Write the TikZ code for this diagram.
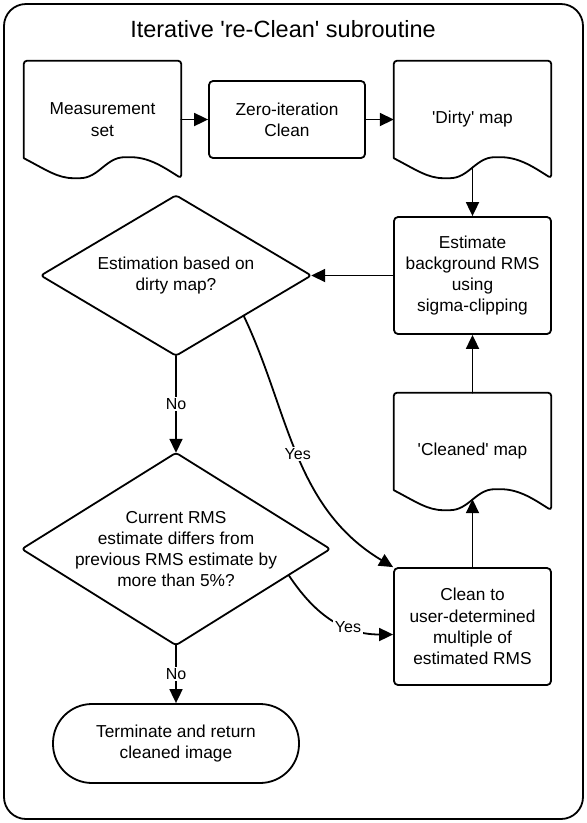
\documentclass[tikz,border=0pt]{standalone}
\usepackage{fontspec}
\setmainfont{Liberation Sans}
\usepackage{tikz}
\usetikzlibrary{positioning,calc,arrows.meta,shapes.geometric}

% outline of a 'document' shape round a node, plus a coordinate on its wave
\newcommand{\docoutline}[1]{%
  \draw [ln,rounded corners=3pt] ($(#1.south west)+(0,-20)$) -- (#1.north west) -- (#1.north east) -- (#1.south east)
    .. controls +(-16,-10) and +(22,0) .. ($(#1.south west)+(104,-21)$)
    .. controls +(-22,0) and +(22,0) .. ($(#1.south west)+(53,0)$)
    .. controls +(-19,0) and +(23,12) .. ($(#1.south west)+(0,-20)$);
  \coordinate (#1-w) at ($(#1.south)+(0,-11)$);
}
% outline of a decision diamond round a node
\newcommand{\decoutline}[1]{%
  \draw [ln,rounded corners=3pt] (#1.north) -- (#1.east) -- (#1.south) -- (#1.west) -- cycle;
  \coordinate (#1-se) at ($(#1.east)!0.5!(#1.south)$);
}

\begin{document}
\begin{tikzpicture}[x=1pt,y=-1pt,line cap=round,line join=round]
  \tikzstyle{ln}=[draw=black,line width=1.8pt]
  \tikzstyle{lbl}=[font=\fontsize{17.3}{21.3}\selectfont,align=center]
  \tikzstyle{docnode}=[lbl,minimum width=157pt,minimum height=117pt,inner sep=0pt]
  \tikzstyle{box}=[ln,lbl,rectangle,rounded corners=4pt,minimum width=157pt,minimum height=117pt,inner sep=0pt]
  \tikzstyle{dec}=[lbl,rectangle,inner sep=0pt]
  \tikzstyle{term}=[ln,lbl,rectangle,rounded corners=39pt,minimum width=246pt,minimum height=79pt]
  \tikzstyle{ed}=[ln,-{Triangle[length=14pt,width=13pt]}]
  \tikzstyle{yn}=[fill=white,font=\fontsize{16}{19}\selectfont,inner sep=1.5pt]
  \useasboundingbox (0,0) rectangle (587,823);
  \draw [ln,rounded corners=22pt] (4,4) rectangle (583,819);
  \node [font=\fontsize{23.5}{28}\selectfont] (title) at (283,29) {Iterative \textquotesingle re-Clean\textquotesingle{} subroutine};
  % top row
  \node [docnode] (meas) at (102.5,119.5) {Measurement\\set};
  \docoutline{meas}
  \node [box,minimum width=156pt,minimum height=77pt] (zero) at (287,119.5) {Zero-iteration\\Clean};
  \node [docnode] (dirty) at (472.5,119.5) {\textquotesingle Dirty\textquotesingle{} map};
  \docoutline{dirty}
  % right column
  \node [box] (est) at (472.5,275.5) {Estimate\\background RMS\\using\\sigma-clipping};
  \node [docnode] (cleaned) at (472.5,451.5) {\textquotesingle Cleaned\textquotesingle{} map};
  \docoutline{cleaned}
  \node [box] (cleanbox) at (472.5,626.5) {Clean to\\user-determined\\multiple of\\estimated RMS};
  % left column
  \node [dec,minimum width=270pt,minimum height=160pt] (dec1) at (176,275.5) {Estimation based on\\dirty map?};
  \decoutline{dec1}
  \node [dec,minimum width=308pt,minimum height=192pt] (dec2) at (176,549) {Current RMS\\estimate differs from\\previous RMS estimate by\\more than 5\%?};
  \decoutline{dec2}
  \node [term] (term) at (176,743.5) {Terminate and return\\cleaned image};
  \coordinate (dec2-y) at ($(dec2.east)!0.27!(dec2.south)$);
  \coordinate (cleanbox-y) at ($(cleanbox.west)+(0,8)$);
  \draw [ed] (meas) -- (zero);
  \draw [ed] (zero) -- (dirty);
  \draw [ed] (dirty-w) -- (est);
  \draw [ed] (est) -- (dec1);
  \draw [ed] (dec1) -- node [yn] {No} (dec2);
  \draw [ed] (dec2) -- node [yn] {No} (term);
  \draw [ed] (dec1-se) .. controls +(45,94) and +(-100,-60) .. node [yn] {Yes} (cleanbox.north west);
  \draw [ed] (dec2-y) .. controls +(22,33) and +(-55,0) .. node [yn,pos=0.68] {Yes} (cleanbox-y);
  \draw [ed] (cleanbox) -- (cleaned-w);
  \draw [ed] (cleaned) -- (est);
\end{tikzpicture}
\end{document}
